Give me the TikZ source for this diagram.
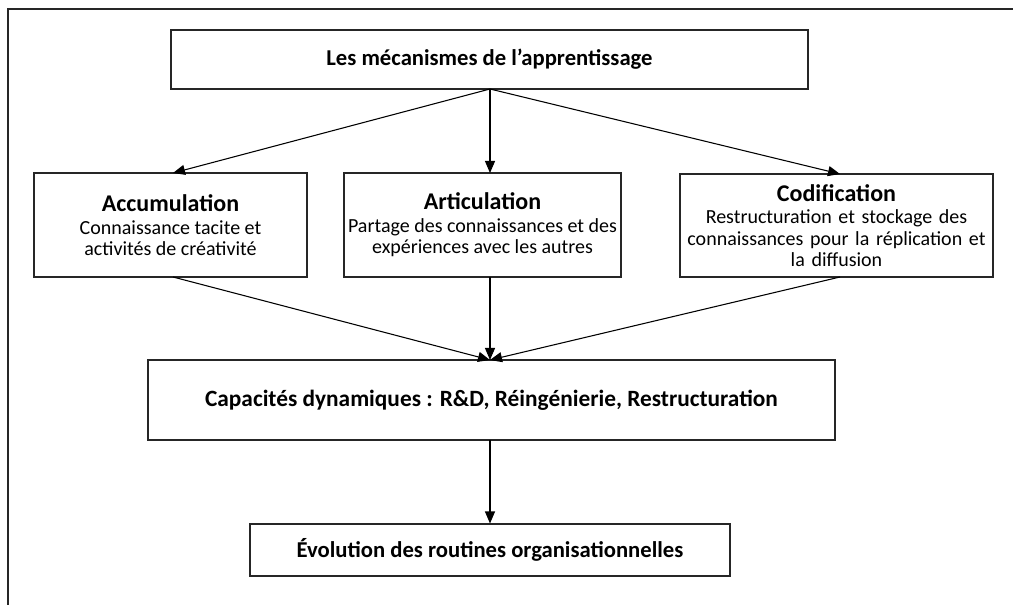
\documentclass[tikz,border=0pt]{standalone}
\usepackage{fontspec}
\setmainfont{Carlito}
\usetikzlibrary{arrows.meta}
\begin{document}
\begin{tikzpicture}[x=0.75pt,y=-0.75pt,
  box/.style={draw=black!85,line width=0.8pt,fill=white,inner sep=0pt,align=center},
  arr/.style={line width=0.8pt,-{Triangle[length=9pt,width=7.5pt]}},
  head/.style={font=\bfseries\fontsize{17}{20}\selectfont},
  body/.style={font=\fontsize{15}{16}\selectfont}]
\useasboundingbox (0,0) rectangle (1013,605);
% outer frame lines
\draw[line width=1.2pt,black!85] (8,605) -- (8,9) -- (1013,9);
% boxes
\node[box,minimum width=637*0.75pt,minimum height=59*0.75pt,head] (top) at (489.5,59.5) {Les mécanismes de l’apprentissage};
\node[box,body,minimum width=273*0.75pt,minimum height=104*0.75pt] (acc) at (170.5,225)
  {\textbf{\fontsize{18}{20}\selectfont Accumulation}\\[1pt]Connaissance tacite et\\activités de créativité};
\node[box,body,minimum width=277*0.75pt,minimum height=104*0.75pt] (art) at (482.5,225)
  {\textbf{\fontsize{18}{20}\selectfont Articulation}\\[1pt]Partage des connaissances et des\\expériences avec les autres};
\node[box,body,text width=305*0.75pt,minimum width=313*0.75pt,minimum height=103*0.75pt] (cod) at (836.5,225.5)
  {\textbf{\fontsize{18}{20}\selectfont Codification}\\[1pt]Restructuration et stockage des\\connaissances pour la réplication et\\la diffusion};
\node[box,minimum width=687*0.75pt,minimum height=80*0.75pt,head,font=\bfseries\fontsize{17.5}{20}\selectfont] (cap) at (491.5,400) {Capacités dynamiques : R\&D, Réingénierie, Restructuration};
\node[box,minimum width=480*0.75pt,minimum height=52*0.75pt,head] (evo) at (490,550) {Évolution des routines organisationnelles};
% connectors
\coordinate (t) at (490,89);
\coordinate (m) at (490,360);
\draw[arr] (t) -- (173,173);
\draw[arr] (t) -- (490,173);
\draw[arr] (t) -- (840,174);
\draw[arr] (173,277) -- (m);
\draw[arr] (490,277) -- (m);
\draw[arr] (840,277) -- (m);
\draw[arr] (490,440) -- (evo.north);
\end{tikzpicture}
\end{document}
